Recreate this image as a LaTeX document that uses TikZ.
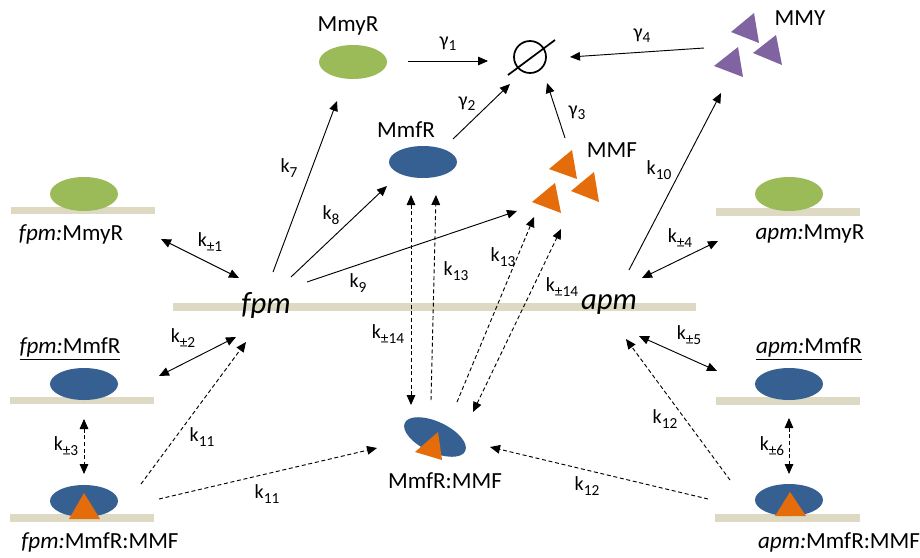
\documentclass[tikz,border=0pt]{standalone}
\usepackage{fontspec}
\setmainfont{Carlito}
\usetikzlibrary{arrows.meta,shapes.geometric}
\definecolor{cgreen}{HTML}{9BBB59}
\definecolor{cblue}{HTML}{376092}
\definecolor{corange}{HTML}{E46C0A}
\definecolor{cpurple}{HTML}{8064A2}
\definecolor{cbeige}{HTML}{DDD9C3}
\newcommand\sbs[1]{\raisebox{-0.45ex}{\fontsize{11.5}{12}\selectfont #1}}
\begin{document}
\begin{tikzpicture}[x=0.75pt,y=-0.75pt,
  lbl/.style={font=\fontsize{17.3}{18}\selectfont, inner sep=0},
  big/.style={font=\fontsize{23}{24}\itshape\selectfont, inner sep=0},
  klbl/.style={font=\fontsize{15}{16}\selectfont, inner sep=0},
  arr/.style={-{Triangle[length=7.5pt,width=6.5pt]}, line width=0.7pt},
  darr/.style={{Triangle[length=7.5pt,width=6.5pt]}-{Triangle[length=7.5pt,width=6.5pt]}, line width=0.7pt},
  dsh/.style={dash pattern=on 3pt off 2pt},
  bar/.style={fill=cbeige},
  gell/.style={ellipse, fill=cgreen, minimum width=51pt, minimum height=25.5pt, inner sep=0},
  bell/.style={ellipse, fill=cblue, minimum width=51pt, minimum height=24pt, inner sep=0},
]
\useasboundingbox (0,0) rectangle (920,557);
% membrane bars
\fill[bar] (11,207) rectangle (155,214);
\fill[bar] (10,397) rectangle (154,404);
\fill[bar] (10,514) rectangle (154,522);
\fill[bar] (716,208) rectangle (860,216);
\fill[bar] (716,397) rectangle (860,405);
\fill[bar] (715,514) rectangle (860,522);
\fill[bar] (173,303) rectangle (696,311);

% proteins
\node[gell] (gfl) at (84,194) {};
\node[gell] (gfr) at (789,194) {};
\node[gell] (gtop) at (353,62) {};
\node[bell] (bfl) at (84,384) {};
\node[bell] (bfr) at (789,384) {};
\node[bell] (bfl2) at (84,501) {};
\node[bell] (bfr2) at (789,500) {};
\node[bell] (btop) at (423,162) {};
\node[bell, rotate=-25, minimum width=50pt, minimum height=23pt] (bc) at (435,437) {};
% orange triangles
\fill[corange] (84,493) -- (69,519) -- (100,519) -- cycle;
\fill[corange] (790,492) -- (775,516) -- (806,516) -- cycle;
\fill[corange] (438,432) -- (415,452) -- (442,460) -- cycle;
\fill[corange] (572,150) -- (549,169) -- (577,179) -- cycle;
\fill[corange] (594,172) -- (571,191) -- (599,202) -- cycle;
\fill[corange] (555,183) -- (532,202) -- (561,213) -- cycle;
% purple triangles
\fill[cpurple] (754,13) -- (731,32) -- (759,43) -- cycle;
\fill[cpurple] (776,35) -- (753,53) -- (782,65) -- cycle;
\fill[cpurple] (738,47) -- (714,66) -- (743,77) -- cycle;

% empty set
\node[circle, draw, line width=1.3pt, minimum size=24pt, inner sep=0] (empty) at (530,57) {};
\coordinate (es1) at (508,75);
\coordinate (es2) at (555,40);
\draw[line width=1.3pt] (es1) -- (es2);

% texts
\node[lbl] (tMmyR) at (348,26) {MmyR};
\node[lbl] (tMmfR) at (406,130) {MmfR};
\node[lbl] (tMMF) at (612,150) {MMF};
\node[lbl] (tMMY) at (800,18) {MMY};
\node[lbl] (tfmy) at (71,234) {\textit{fpm:}MmyR};
\node[lbl] (tfmf) at (70,349) {\underline{\textit{fpm:}MmfR}};
\node[lbl] (tfmfc) at (100,542) {\textit{fpm:}MmfR:MMF};
\node[lbl] (tamy) at (810,234) {\textit{apm:}MmyR};
\node[lbl] (tamf) at (809,349) {\underline{\textit{apm:}MmfR}};
\node[lbl] (tamfc) at (839,542) {\textit{apm:}MmfR:MMF};
\node[lbl] (tcomp) at (445,481) {MmfR:MMF};
\node[big] (fpm) at (266,305) {fpm};
\node[big] (apm) at (609,305) {apm};

% arrow end points
\coordinate (a7s) at (273,272); \coordinate (a7e) at (337,101);
\coordinate (a8s) at (291,277); \coordinate (a8e) at (387,186);
\coordinate (a9s) at (307,282); \coordinate (a9e) at (517,211);
\coordinate (a1s) at (161,239); \coordinate (a1e) at (239,278);
\coordinate (a2s) at (159,376); \coordinate (a2e) at (236,337);
\coordinate (a3s) at (84,419);  \coordinate (a3e) at (84,474);
\coordinate (a11s) at (141,484); \coordinate (a11e) at (246,342);
\coordinate (b11s) at (159,499); \coordinate (b11e) at (377,448);
\coordinate (a14s) at (411,195); \coordinate (a14e) at (411,405);
\coordinate (a13s) at (431,400); \coordinate (a13e) at (436,195);
\coordinate (b13s) at (457,402); \coordinate (b13e) at (534,217);
\coordinate (b14s) at (473,412); \coordinate (b14e) at (561,229);
\coordinate (a10s) at (629,270); \coordinate (a10e) at (721,93);
\coordinate (a4s) at (642,278); \coordinate (a4e) at (718,241);
\coordinate (a5s) at (639,336); \coordinate (a5e) at (717,371);
\coordinate (a12s) at (730,480); \coordinate (a12e) at (626,339);
\coordinate (b12s) at (708,499); \coordinate (b12e) at (490,447);
\coordinate (a6s) at (789,418); \coordinate (a6e) at (789,474);
\coordinate (g1s) at (408,61); \coordinate (g1e) at (488,61);
\coordinate (g2s) at (453,139); \coordinate (g2e) at (510,84);
\coordinate (g3s) at (565,138); \coordinate (g3e) at (547,83);
\coordinate (g4s) at (704,48); \coordinate (g4e) at (570,57);

% solid arrows
\draw[arr] (a7s) -- (a7e);
\draw[arr] (a8s) -- (a8e);
\draw[arr] (a9s) -- (a9e);
\draw[arr] (a10s) -- (a10e);
\draw[darr] (a1s) -- (a1e);
\draw[darr] (a2s) -- (a2e);
\draw[darr] (a4s) -- (a4e);
\draw[darr] (a5s) -- (a5e);
\draw[arr] (g1s) -- (g1e);
\draw[arr] (g2s) -- (g2e);
\draw[arr] (g3s) -- (g3e);
\draw[arr] (g4s) -- (g4e);
% dashed arrows
\draw[darr,dsh] (a3s) -- (a3e);
\draw[darr,dsh] (a6s) -- (a6e);
\draw[arr,dsh] (a11s) -- (a11e);
\draw[arr,dsh] (b11s) -- (b11e);
\draw[darr,dsh] (a14s) -- (a14e);
\draw[arr,dsh] (a13s) -- (a13e);
\draw[arr,dsh] (b13s) -- (b13e);
\draw[darr,dsh] (b14s) -- (b14e);
\draw[arr,dsh] (a12s) -- (a12e);
\draw[arr,dsh] (b12s) -- (b12e);

% rate labels
\node[klbl] (k7) at (289,168) {k\sbs{7}};
\node[klbl] (k8) at (331,215) {k\sbs{8}};
\node[klbl] (k9) at (358,283) {k\sbs{9}};
\node[klbl] (kp1) at (210,242) {k\sbs{±1}};
\node[klbl] (kp2) at (183,338) {k\sbs{±2}};
\node[klbl] (kp3) at (66,446) {k\sbs{±3}};
\node[klbl] (k11a) at (202,437) {k\sbs{11}};
\node[klbl] (k11b) at (267,494) {k\sbs{11}};
\node[klbl] (kp14a) at (388,334) {k\sbs{±14}};
\node[klbl] (k13a) at (456,271) {k\sbs{13}};
\node[klbl] (k13b) at (503,257) {k\sbs{13}};
\node[klbl] (kp14b) at (562,287) {k\sbs{±14}};
\node[klbl] (k10) at (659,170) {k\sbs{10}};
\node[klbl] (kp4) at (680,238) {k\sbs{±4}};
\node[klbl] (kp5) at (689,335) {k\sbs{±5}};
\node[klbl] (k12a) at (665,419) {k\sbs{12}};
\node[klbl] (k12b) at (587,486) {k\sbs{12}};
\node[klbl] (kp6) at (772,446) {k\sbs{±6}};
\node[klbl] (g1) at (448,44) {γ\sbs{1}};
\node[klbl] (g2) at (467,104) {γ\sbs{2}};
\node[klbl] (g3) at (577,113) {γ\sbs{3}};
\node[klbl] (g4) at (642,36) {γ\sbs{4}};
\end{tikzpicture}
\end{document}
